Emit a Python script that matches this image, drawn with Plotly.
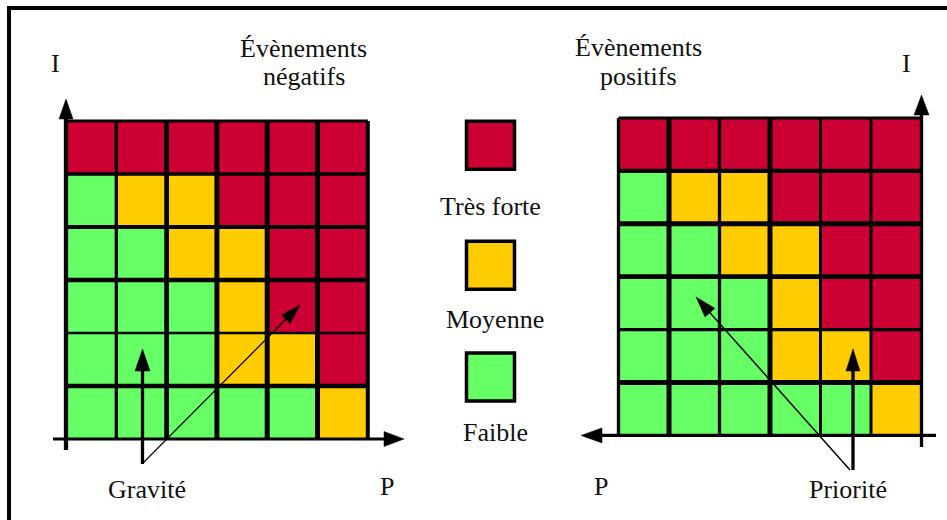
import math
import plotly.graph_objects as go

# risk level per cell, top row first (0 = faible, 1 = moyenne, 2 = très forte)
niveaux_negatifs = [
    [2, 2, 2, 2, 2, 2],
    [0, 1, 1, 2, 2, 2],
    [0, 0, 1, 1, 2, 2],
    [0, 0, 0, 1, 2, 2],
    [0, 0, 0, 1, 1, 2],
    [0, 0, 0, 0, 0, 1],
]
niveaux_positifs = [
    [2, 2, 2, 2, 2, 2],
    [0, 1, 1, 2, 2, 2],
    [0, 0, 1, 1, 2, 2],
    [0, 0, 0, 1, 2, 2],
    [0, 0, 0, 1, 1, 2],
    [0, 0, 0, 0, 0, 1],
]
legende_niveaux = [2, 1, 0]
legende_textes = ["Très forte", "Moyenne", "Faible"]
couleurs = ["#66FF66", "#FFCC00", "#CC0033"]

W, H = 947, 520
FONT = "Liberation Serif, Times New Roman, Tinos, DejaVu Serif, serif"
FS = 26

# grid geometry (pixels)
GL = dict(x=66, y=121, cw=50.3, ch=53.0)     # négatifs
GR = dict(x=618.5, y=118, cw=50.5, ch=52.9)  # positifs

fig = go.Figure()


def add_grid(g, z, vwidths, hwidths):
    fig.add_trace(go.Heatmap(
        z=z, x0=g["x"] + g["cw"] / 2, dx=g["cw"], y0=g["y"] + g["ch"] / 2, dy=g["ch"],
        zmin=0, zmax=2, showscale=False, hoverinfo="skip",
        colorscale=[[0, couleurs[0]], [0.5, couleurs[1]], [1, couleurs[2]]],
    ))
    n = len(z)
    x1 = g["x"] + n * g["cw"]
    y1 = g["y"] + n * g["ch"]
    for i, w in enumerate(vwidths):
        if w:
            xx = g["x"] + i * g["cw"]
            fig.add_shape(type="line", x0=xx, x1=xx, y0=g["y"], y1=y1,
                          line=dict(color="black", width=w))
    for j, w in enumerate(hwidths):
        yy = g["y"] + j * g["ch"]
        fig.add_shape(type="line", x0=g["x"], x1=x1, y0=yy, y1=yy,
                      line=dict(color="black", width=w))


def add_arrow(x0, y0, x1, y1, lw, hl, hw):
    d = math.hypot(x1 - x0, y1 - y0)
    ux, uy = (x1 - x0) / d, (y1 - y0) / d
    bx, by = x1 - ux * hl, y1 - uy * hl
    fig.add_shape(type="line", x0=x0, y0=y0, x1=bx + ux, y1=by + uy,
                  line=dict(color="black", width=lw))
    nx, ny = -uy * hw / 2, ux * hw / 2
    path = f"M{x1},{y1} L{bx + nx},{by + ny} L{bx - nx},{by - ny} Z"
    fig.add_shape(type="path", path=path, fillcolor="black", line=dict(color="black", width=0.5))


add_grid(GL, niveaux_negatifs, [0, 3.3, 4.7, 5, 5, 5, 4], [3, 3.5, 4, 4.7, 2.5, 4.7])
add_grid(GR, niveaux_positifs, [3.3, 5, 3.3, 5, 3, 3, 0], [3, 4.3, 5, 4.7, 3.3, 5])

# axes of the left matrix
add_arrow(GL["x"], 450, GL["x"], 99, 4.3, 20, 14)
add_arrow(53, GL["y"] + 6 * GL["ch"], 404, GL["y"] + 6 * GL["ch"], 3, 20, 15)
# axes of the right matrix
xr = GR["x"] + 6 * GR["cw"]
yr = GR["y"] + 6 * GR["ch"]
add_arrow(xr, 447, xr, 95, 3.3, 20, 15)
add_arrow(936, yr, 581, yr, 3.3, 21, 15)

# Gravité / Priorité arrows
add_arrow(142.5, 464, 142.5, 349, 3.3, 22, 15)
add_arrow(143, 463, 300, 305, 1.2, 20, 12)
add_arrow(853, 470, 853, 349, 3.3, 22, 14)
add_arrow(850, 470, 696, 297, 1.5, 21, 13)

# legend squares
fig.add_trace(go.Scatter(
    x=[490.5] * 3, y=[145.3, 265.3, 377],
    mode="markers", hoverinfo="skip", showlegend=False,
    marker=dict(symbol="square", size=48, color=[couleurs[n] for n in legende_niveaux],
                line=dict(color="black", width=3.5)),
))

# frame
fig.add_shape(type="line", x0=9, x1=W, y0=8, y1=8, line=dict(color="black", width=4))
fig.add_shape(type="line", x0=9, x1=9, y0=6, y1=H, line=dict(color="black", width=4))

textes = [
    ("Évènements", 303.5, 57), ("négatifs", 303.5, 85),
    ("Évènements", 638.5, 56), ("positifs", 638.5, 85),
    ("I", 55.5, 72), ("I", 906, 72),
    ("P", 387, 495), ("P", 601, 495),
    ("Gravité", 147, 498), ("Priorité", 847.5, 498),
    (legende_textes[0], 490, 215), (legende_textes[1], 495, 328), (legende_textes[2], 495.5, 441),
]
for t, x, yb in textes:
    fig.add_annotation(x=x, y=yb - 9, text=t, showarrow=False, xanchor="center", yanchor="middle",
                       font=dict(family=FONT, size=FS, color="#111111"))

fig.update_layout(
    width=W, height=H, margin=dict(l=0, r=0, t=0, b=0),
    paper_bgcolor="white", plot_bgcolor="white", showlegend=False,
    xaxis=dict(range=[0, W], visible=False, fixedrange=True),
    yaxis=dict(range=[H, 0], visible=False, fixedrange=True),
)
fig.write_html("out.html", config={"displayModeBar": False},
               post_script="document.body.style.margin='0';")
